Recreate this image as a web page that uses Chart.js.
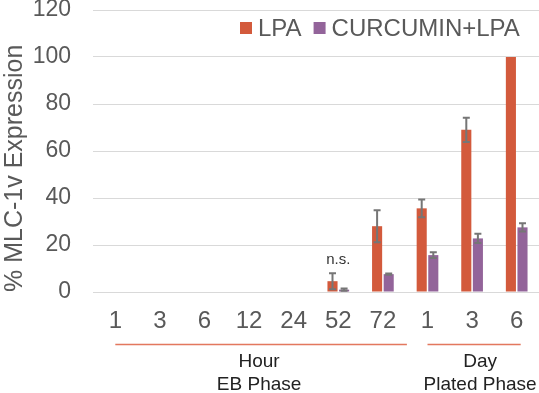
<!DOCTYPE html>
<html>
<head>
<meta charset="utf-8">
<script src="https://cdn.jsdelivr.net/npm/chart.js@4.4.0/dist/chart.umd.min.js"></script>
<style>
  html, body { margin: 0; padding: 0; background: #fff; }
  #wrap { width: 539px; height: 393px; }
</style>
</head>
<body>
<div id="wrap"><canvas id="canvas"></canvas></div>
<script>
const categories = ["1", "3", "6", "12", "24", "52", "72", "1", "3", "6"];
const lpaValues = [0, 0, 0, 0, 0, 4.6, 28, 35.6, 69, 100];
const lpaErrors = [0, 0, 0, 0, 0, 3.4, 6.8, 3.8, 5.2, 0];
const curValues = [0, 0, 0, 0, 0, 1, 7.6, 15.7, 22.8, 27.5];
const curErrors = [0, 0, 0, 0, 0, 0.5, 0.3, 1.2, 2, 1.8];
const yTicks = [0, 20, 40, 60, 80, 100, 120];
const groups = [
    { from: 0, to: 6, lines: ["Hour", "EB Phase"] },
    { from: 7, to: 9, lines: ["Day", "Plated Phase"] }
];
const notes = [{ index: 5, text: "n.s." }];

const lpaColor = "#d35a3c";
const curColor = "#93649a";
const font = "Liberation Sans, Arial, sans-serif";

const extrasPlugin = {
    id: "extras",
    afterDatasetsDraw(chart) {
        const ctx = chart.ctx;
        const x = chart.scales.x;
        const y = chart.scales.y;

        // error bars
        const errs = [lpaErrors, curErrors];
        ctx.save();
        ctx.strokeStyle = "#767676";
        ctx.lineWidth = 2;
        chart.data.datasets.forEach((ds, di) => {
            const meta = chart.getDatasetMeta(di);
            meta.data.forEach((bar, i) => {
                const e = errs[di][i];
                if (!e) return;
                const v = ds.data[i];
                const top = y.getPixelForValue(v + e);
                const bot = y.getPixelForValue(Math.max(0, v - e));
                ctx.beginPath();
                ctx.moveTo(bar.x, top); ctx.lineTo(bar.x, bot);
                ctx.moveTo(bar.x - 3.5, top); ctx.lineTo(bar.x + 3.5, top);
                ctx.moveTo(bar.x - 3.5, bot); ctx.lineTo(bar.x + 3.5, bot);
                ctx.stroke();
            });
        });

        // significance notes
        ctx.fillStyle = "#333";
        ctx.font = "15px " + font;
        ctx.textAlign = "center";
        ctx.textBaseline = "middle";
        notes.forEach(n => {
            const top = y.getPixelForValue(lpaValues[n.index] + lpaErrors[n.index]);
            ctx.fillText(n.text, x.getPixelForValue(n.index), top - 13);
        });

        // group lines and labels
        ctx.font = "19px " + font;
        ctx.fillStyle = "#222";
        groups.forEach((g, gi) => {
            const x0 = x.getPixelForValue(g.from);
            const x1 = x.getPixelForValue(g.to);
            ctx.strokeStyle = "rgba(222,96,66,0.85)";
            ctx.lineWidth = 1.5;
            ctx.beginPath();
            ctx.moveTo(x0, 344.5);
            ctx.lineTo(x1 + (gi === 0 ? 24 : 4), 344.5);
            ctx.stroke();
            const cx = (x0 + x1) / 2 + (gi === 0 ? 10 : 8);
            ctx.fillText(g.lines[0], cx, 362);
            ctx.fillText(g.lines[1], cx, 385);
        });

        // legend
        ctx.font = "24px " + font;
        ctx.textAlign = "left";
        let lx = 240;
        chart.data.datasets.forEach(ds => {
            ctx.fillStyle = ds.backgroundColor;
            ctx.fillRect(lx, 22, 12, 12);
            ctx.fillStyle = "#595959";
            ctx.fillText(ds.label, lx + 18, 29);
            lx += 18 + ctx.measureText(ds.label).width + 12;
        });
        ctx.restore();
    }
};

new Chart(document.getElementById("canvas").getContext("2d"), {
    type: "bar",
    data: {
        labels: categories,
        datasets: [
            { label: "LPA", data: lpaValues, backgroundColor: lpaColor },
            { label: "CURCUMIN+LPA", data: curValues, backgroundColor: curColor }
        ]
    },
    options: {
        responsive: true,
        maintainAspectRatio: false,
        animation: false,
        devicePixelRatio: 1,
        categoryPercentage: 0.52,
        barPercentage: 0.87,
        layout: { padding: { top: 10, right: 0, bottom: 57, left: 0 } },
        plugins: {
            legend: { display: false },
            tooltip: { enabled: false }
        },
        scales: {
            x: {
                grid: { display: false, drawTicks: false },
                border: { display: false },
                afterFit: axis => { axis.height = 44; },
                ticks: {
                    color: "#595959",
                    padding: 15,
                    font: { size: 24, family: font }
                }
            },
            y: {
                min: 0,
                max: 120,
                afterBuildTicks: axis => { axis.ticks = yTicks.map(v => ({ value: v })); },
                afterFit: axis => {
                    axis.width = 93;
                    axis.paddingTop = 0;
                    axis.paddingBottom = 0;
                },
                grid: { color: "#d9d9d9", lineWidth: 1, drawTicks: false },
                border: { display: false },
                ticks: {
                    color: "#595959",
                    padding: 22,
                    font: { size: 23, family: font }
                },
                title: {
                    display: true,
                    text: "% MLC-1v Expression",
                    color: "#595959",
                    align: "start",
                    padding: { top: 0, bottom: 6 },
                    font: { size: 25, family: font }
                }
            }
        }
    },
    plugins: [extrasPlugin]
});
</script>
</body>
</html>
